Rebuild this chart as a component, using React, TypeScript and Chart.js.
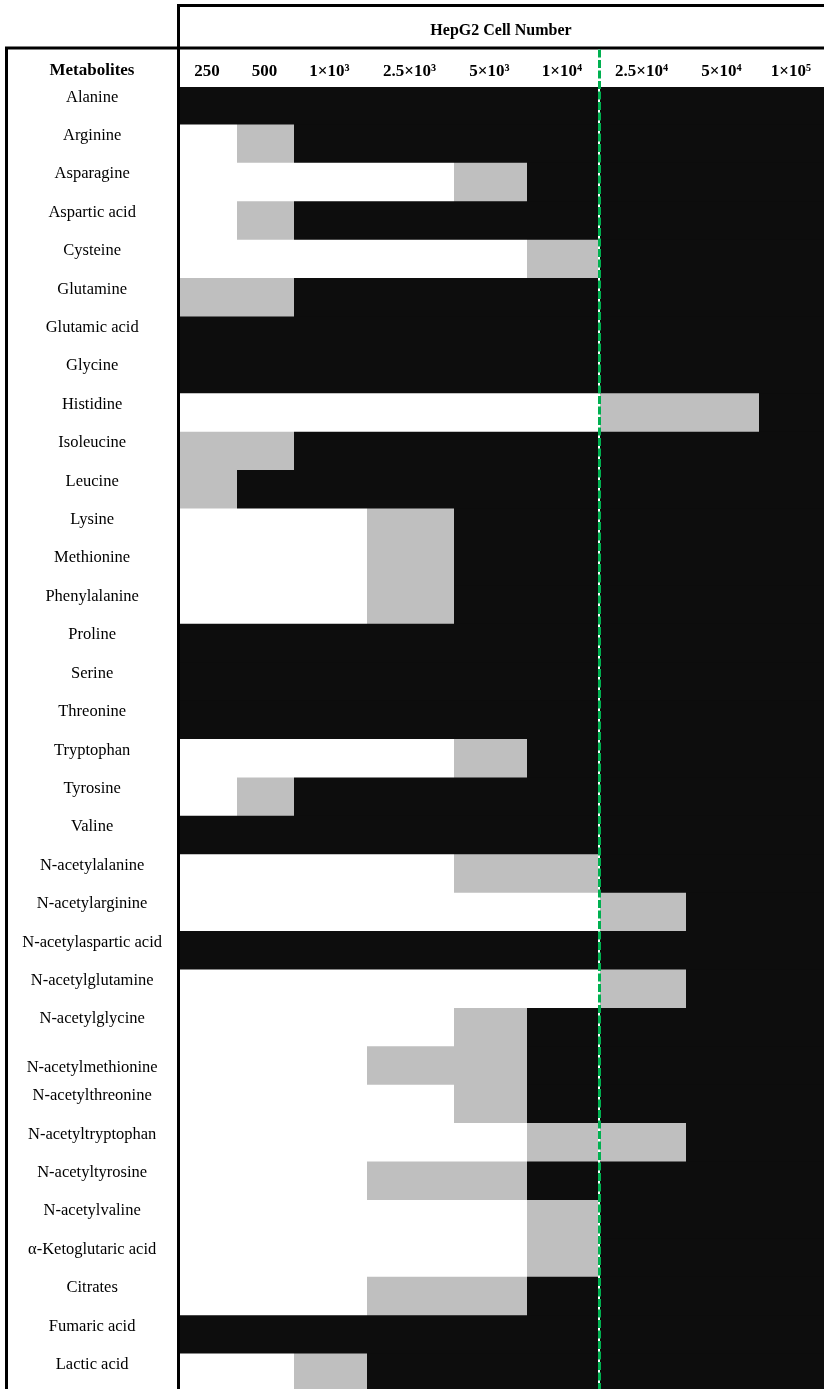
import React, { useEffect, useRef } from "react";
import { Chart, registerables } from "chart.js";

Chart.register(...registerables);

const METABOLITES = [
  "Alanine",
  "Arginine",
  "Asparagine",
  "Aspartic acid",
  "Cysteine",
  "Glutamine",
  "Glutamic acid",
  "Glycine",
  "Histidine",
  "Isoleucine",
  "Leucine",
  "Lysine",
  "Methionine",
  "Phenylalanine",
  "Proline",
  "Serine",
  "Threonine",
  "Tryptophan",
  "Tyrosine",
  "Valine",
  "N-acetylalanine",
  "N-acetylarginine",
  "N-acetylaspartic acid",
  "N-acetylglutamine",
  "N-acetylglycine",
  "N-acetylmethionine",
  "N-acetylthreonine",
  "N-acetyltryptophan",
  "N-acetyltyrosine",
  "N-acetylvaline",
  "α-Ketoglutaric acid",
  "Citrates",
  "Fumaric acid",
  "Lactic acid",
];

const CELL_NUMBERS = ["250", "500", "1×10³", "2.5×10³", "5×10³", "1×10⁴", "2.5×10⁴", "5×10⁴", "1×10⁵"];

// table column widths (layout of the original table)
const COLUMN_WIDTHS = [58, 57, 73, 87, 73, 72, 87, 73, 66];

// 0 = white, 1 = grey, 2 = black (one value per metabolite, in METABOLITES order)
const LEVELS_250 = [2, 0, 0, 0, 0, 1, 2, 2, 0, 1, 1, 0, 0, 0, 2, 2, 2, 0, 0, 2, 0, 0, 2, 0, 0, 0, 0, 0, 0, 0, 0, 0, 2, 0];
const LEVELS_500 = [2, 1, 0, 1, 0, 1, 2, 2, 0, 1, 2, 0, 0, 0, 2, 2, 2, 0, 1, 2, 0, 0, 2, 0, 0, 0, 0, 0, 0, 0, 0, 0, 2, 0];
const LEVELS_1E3 = [2, 2, 0, 2, 0, 2, 2, 2, 0, 2, 2, 0, 0, 0, 2, 2, 2, 0, 2, 2, 0, 0, 2, 0, 0, 0, 0, 0, 0, 0, 0, 0, 2, 1];
const LEVELS_2_5E3 = [2, 2, 0, 2, 0, 2, 2, 2, 0, 2, 2, 1, 1, 1, 2, 2, 2, 0, 2, 2, 0, 0, 2, 0, 0, 1, 0, 0, 1, 0, 0, 1, 2, 2];
const LEVELS_5E3 = [2, 2, 1, 2, 0, 2, 2, 2, 0, 2, 2, 2, 2, 2, 2, 2, 2, 1, 2, 2, 1, 0, 2, 0, 1, 1, 1, 0, 1, 0, 0, 1, 2, 2];
const LEVELS_1E4 = [2, 2, 2, 2, 1, 2, 2, 2, 0, 2, 2, 2, 2, 2, 2, 2, 2, 2, 2, 2, 1, 0, 2, 0, 2, 2, 2, 1, 2, 1, 1, 2, 2, 2];
const LEVELS_2_5E4 = [2, 2, 2, 2, 2, 2, 2, 2, 1, 2, 2, 2, 2, 2, 2, 2, 2, 2, 2, 2, 2, 1, 2, 1, 2, 2, 2, 1, 2, 2, 2, 2, 2, 2];
const LEVELS_5E4 = [2, 2, 2, 2, 2, 2, 2, 2, 1, 2, 2, 2, 2, 2, 2, 2, 2, 2, 2, 2, 2, 2, 2, 2, 2, 2, 2, 2, 2, 2, 2, 2, 2, 2];
const LEVELS_1E5 = [2, 2, 2, 2, 2, 2, 2, 2, 2, 2, 2, 2, 2, 2, 2, 2, 2, 2, 2, 2, 2, 2, 2, 2, 2, 2, 2, 2, 2, 2, 2, 2, 2, 2];

const LEVELS = [LEVELS_250, LEVELS_500, LEVELS_1E3, LEVELS_2_5E3, LEVELS_5E3, LEVELS_1E4, LEVELS_2_5E4, LEVELS_5E4, LEVELS_1E5];

const LEVEL_COLORS = ["#ffffff", "#bfbfbf", "#0d0d0d"];

// dashed threshold line sits before this column (2.5×10⁴)
const THRESHOLD_COLUMN = 6;

const FONT_FAMILY = "'Liberation Serif', 'Times New Roman', serif";

export default function App() {
  const canvasRef = useRef<HTMLCanvasElement | null>(null);

  useEffect(() => {
    document.body.style.margin = "0";
    const canvas = canvasRef.current;
    if (!canvas) return;

    const edges: number[] = [0];
    COLUMN_WIDTHS.forEach((w, i) => edges.push(edges[i] + w));
    const centers = COLUMN_WIDTHS.map((w, i) => edges[i] + w / 2);
    const total = edges[edges.length - 1];

    const datasets = LEVELS.map((levels, j) => ({
      label: CELL_NUMBERS[j],
      data: METABOLITES.map(() => [edges[j], edges[j + 1]]),
      backgroundColor: levels.map((l) => LEVEL_COLORS[l]),
      borderWidth: 0,
      grouped: false,
      barPercentage: 1,
      categoryPercentage: 1,
      inflateAmount: 1,
    }));

    const backgroundPlugin = {
      id: "areaBackground",
      beforeDatasetsDraw(chart: any) {
        const { ctx, chartArea } = chart;
        ctx.save();
        ctx.fillStyle = LEVEL_COLORS[2];
        ctx.fillRect(chartArea.left, chartArea.top, chartArea.right - chartArea.left, chartArea.bottom - chartArea.top);
        ctx.restore();
      },
    };

    const tablePlugin = {
      id: "tableLines",
      afterDraw(chart: any) {
        const { ctx, chartArea, scales } = chart;
        const W = chart.width;
        const H = chart.height;
        ctx.save();
        ctx.strokeStyle = "#000000";
        ctx.lineWidth = 3;
        ctx.beginPath();
        // header box top line
        ctx.moveTo(chartArea.left - 1, 5.5);
        ctx.lineTo(W, 5.5);
        // vertical separator between names and values
        ctx.moveTo(chartArea.left + 0.5, 4);
        ctx.lineTo(chartArea.left + 0.5, H);
        // rule under the title row
        ctx.moveTo(5, 48);
        ctx.lineTo(W, 48);
        // left border
        ctx.moveTo(6.5, 46.5);
        ctx.lineTo(6.5, H);
        ctx.stroke();

        // green dashed threshold line
        const gx = scales.x.getPixelForValue(edges[THRESHOLD_COLUMN]) + 1.5;
        ctx.beginPath();
        ctx.strokeStyle = "#ffffff";
        ctx.lineWidth = 2;
        ctx.moveTo(gx - 0.5, 49.5);
        ctx.lineTo(gx - 0.5, H);
        ctx.stroke();
        ctx.beginPath();
        ctx.setLineDash([8, 2.5]);
        ctx.strokeStyle = "#00b050";
        ctx.lineWidth = 3;
        ctx.moveTo(gx, 49.5);
        ctx.lineTo(gx, H);
        ctx.stroke();
        ctx.setLineDash([]);

        // column header of the name column
        ctx.fillStyle = "#000000";
        ctx.font = `bold 17px ${FONT_FAMILY}`;
        ctx.textAlign = "center";
        ctx.textBaseline = "middle";
        ctx.fillText("Metabolites", 92, 71);
        ctx.restore();
      },
    };

    const chart = new Chart(canvas, {
      type: "bar",
      data: { labels: METABOLITES, datasets: datasets as any },
      options: {
        indexAxis: "y",
        animation: false,
        responsive: false,
        devicePixelRatio: 1,
        layout: { padding: 0 },
        plugins: {
          legend: { display: false },
          tooltip: { enabled: false },
        },
        scales: {
          x: {
            type: "linear",
            position: "top",
            min: 0,
            max: total,
            grid: { display: false, drawTicks: false },
            border: { display: false },
            title: {
              display: true,
              text: "HepG2 Cell Number",
              color: "#000000",
              font: { family: FONT_FAMILY, size: 16, weight: "bold" },
              padding: { top: 21, bottom: 0 },
            },
            afterBuildTicks: (scale: any) => {
              scale.ticks = centers.map((v) => ({ value: v }));
            },
            afterFit: (scale: any) => {
              scale.height = 87;
              scale.paddingLeft = 0;
              scale.paddingRight = 0;
            },
            ticks: {
              autoSkip: false,
              maxRotation: 0,
              minRotation: 0,
              padding: 5,
              color: "#000000",
              font: { family: FONT_FAMILY, size: 17, weight: "bold" },
              callback: (_v: any, i: number) => CELL_NUMBERS[i],
            },
          },
          y: {
            type: "category",
            position: "left",
            offset: true,
            grid: { display: false, drawTicks: false },
            border: { display: false },
            afterFit: (scale: any) => {
              scale.width = 178;
              scale.paddingTop = 0;
              scale.paddingBottom = 0;
            },
            ticks: {
              autoSkip: false,
              crossAlign: "center",
              padding: 16,
              labelOffset: -9,
              color: "#000000",
              font: { family: FONT_FAMILY, size: 16.5 },
              callback: (_v: any, i: number) =>
                METABOLITES[i] === "N-acetylmethionine" ? ["", METABOLITES[i]] : METABOLITES[i],
            },
          },
        },
      } as any,
      plugins: [backgroundPlugin, tablePlugin],
    });

    return () => chart.destroy();
  }, []);

  return (
    <div style={{ width: 824, height: 1389, overflow: "hidden" }}>
      <canvas ref={canvasRef} width={824} height={1393} style={{ display: "block" }} />
    </div>
  );
}
